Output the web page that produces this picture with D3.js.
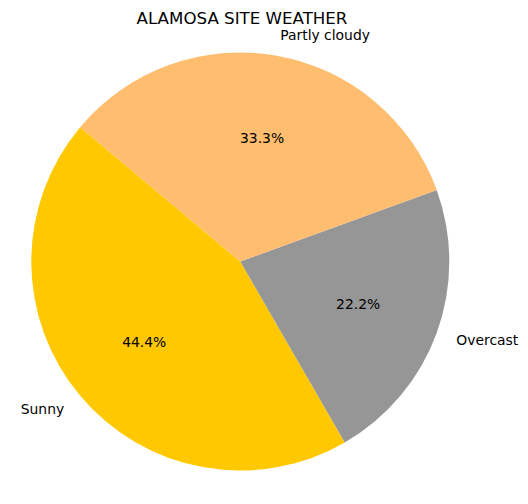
<!DOCTYPE html>
<html>
<head>
<meta charset="utf-8">
<script src="https://cdn.jsdelivr.net/npm/d3@7"></script>
<style>
html,body{margin:0;padding:0;background:#fff;}
svg{display:block;}
text{font-family:"DejaVu Sans",sans-serif;fill:#000;}
</style>
</head>
<body>
<svg id="chart" width="528" height="504"></svg>
<script>
const title = "ALAMOSA SITE WEATHER";
const categories = ["Sunny", "Overcast", "Partly cloudy"];
const values = [4, 2, 3];
const colors = ["#ffc800", "#969696", "#ffbe6f"];

const W = 528, H = 504;
const cx = 240.3, cy = 261.5, R = 209;
const startDeg = 140; // matplotlib startangle, counterclockwise

const svg = d3.select("#chart");
const g = svg.append("g").attr("transform", `translate(${cx},${cy})`);

const toRad = d => d * Math.PI / 180;
// d3 angle: 0 at 12 o'clock, clockwise; math angle ccw from +x
const s0 = toRad(90 - startDeg);
const pie = d3.pie().sort(null).value(d => d.v)
  .startAngle(s0).endAngle(s0 - 2 * Math.PI);

const data = categories.map((c, i) => ({c, v: values[i], col: colors[i]}));
const arcs = pie(data);
const arc = d3.arc().innerRadius(0).outerRadius(R);
const total = d3.sum(values);

g.selectAll("path").data(arcs).enter().append("path")
  .attr("d", arc)
  .attr("fill", d => d.data.col);

const fs = 13.9;
arcs.forEach(a => {
  const mid = (a.startAngle + a.endAngle) / 2;
  const sx = Math.sin(mid), sy = -Math.cos(mid);
  // outer labels at 1.1 R
  const lx = 1.1 * R * sx, ly = 1.1 * R * sy;
  g.append("text")
    .attr("x", lx).attr("y", ly + fs * 0.33)
    .attr("text-anchor", lx > 0 ? "start" : "end")
    .style("font-size", fs + "px")
    .text(a.data.c);
  // percentages at 0.6 R
  const px = 0.6 * R * sx, py = 0.6 * R * sy;
  g.append("text")
    .attr("x", px).attr("y", py + fs * 0.36)
    .attr("text-anchor", "middle")
    .style("font-size", fs + "px")
    .text(d3.format(".1f")(a.data.v / total * 100) + "%");
});

svg.append("text")
  .attr("x", 242).attr("y", 23.5)
  .attr("text-anchor", "middle")
  .style("font-size", "16.67px")
  .text(title);
</script>
</body>
</html>
